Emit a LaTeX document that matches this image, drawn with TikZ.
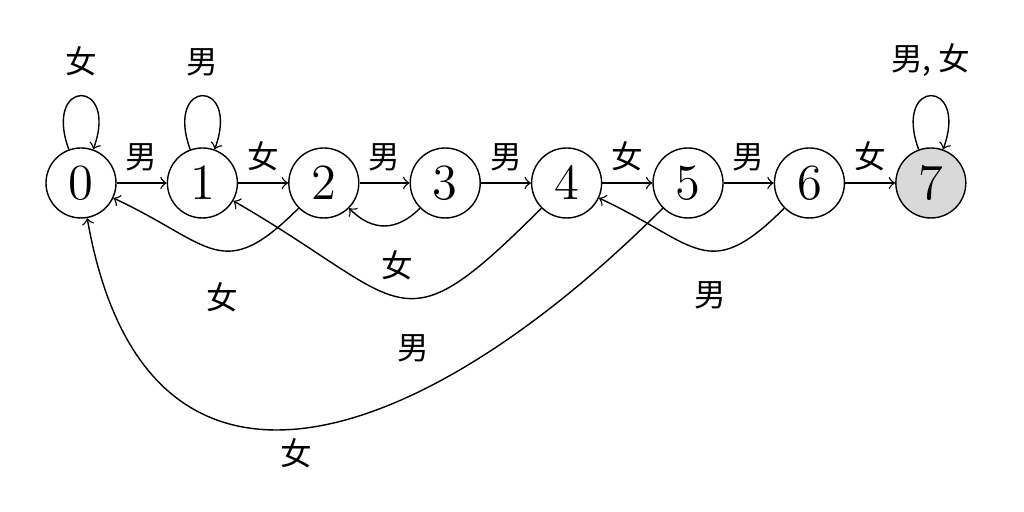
\documentclass[tikz,border=0pt]{standalone}
\usepackage{fontspec}
\newfontfamily\cjk{Noto Sans CJK SC}
\usetikzlibrary{positioning}
\begin{document}
\begin{tikzpicture}[>=to, font=\cjk\small,
  state/.style={draw, circle, minimum size=0.7cm, inner sep=0pt, font=\Large},
  final/.style={state, fill=black!15}]
\useasboundingbox (0,0) rectangle (10.24,-5.12);
\node (s0)[state] at (0.81,-1.83) {$0$};
\node (s1)[state, right=0.5cm of s0] {$1$};
\node (s2)[state, right=0.5cm of s1] {$2$};
\node (s3)[state, right=0.5cm of s2] {$3$};
\node (s4)[state, right=0.5cm of s3] {$4$};
\node (s5)[state, right=0.5cm of s4] {$5$};
\node (s6)[state, right=0.5cm of s5] {$6$};
\node (s7)[final, right=0.5cm of s6] {$7$};

% loops
\draw[->] (s0) to[out=110,in=70,looseness=8] node[above=2pt] {女} (s0);
\draw[->] (s1) to[out=110,in=70,looseness=8] node[above=2pt] {男} (s1);
\draw[->] (s7) to[out=110,in=70,looseness=8] node[above=2pt] {男, 女} (s7);

% forward
\draw[->] (s0) -- node[above] {男} (s1);
\draw[->] (s1) -- node[above] {女} (s2);
\draw[->] (s2) -- node[above] {男} (s3);
\draw[->] (s3) -- node[above] {男} (s4);
\draw[->] (s4) -- node[above] {女} (s5);
\draw[->] (s5) -- node[above] {男} (s6);
\draw[->] (s6) -- node[above] {女} (s7);

% back
\draw[->] (s3) to[out=-135,in=-45,looseness=1.2] (s2);
\node (l32) at (3.97,-2.65) {女};
\draw[->] (s2) to[out=-135,in=-25,looseness=1.5] (s0);
\node (l20) at (2.22,-2.97) {女};
\draw[->] (s4) to[out=-135,in=-30,looseness=1.7] (s1);
\node (l41) at (4.13,-3.48) {男};
\draw[->] (s6) to[out=-135,in=-25,looseness=1.5] (s4);
\node (l64) at (7.10,-2.95) {男};
\draw[->] (s5) to[out=-135,in=-80,looseness=1.5] (s0);
\node (l50) at (2.96,-4.53) {女};
\end{tikzpicture}
\end{document}
